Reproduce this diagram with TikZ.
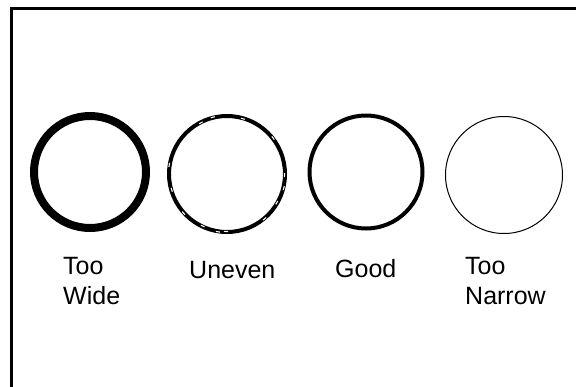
\documentclass[tikz,border=0pt]{standalone}
\usepackage{fontspec}
\setmainfont{Liberation Sans}
\usepackage{tikz}

\begin{document}
\begin{tikzpicture}[
    x=1pt, y=-1pt,
    frame/.style={draw, line width=3pt},
    ring/.style={circle, draw, inner sep=0pt, outer sep=0pt},
    gapmark/.style={draw=white, line width=1.1pt},
    ringtext/.style={
        align=left,
        anchor=base west,
        inner sep=0pt,
        font=\fontsize{25}{30}\selectfont
    }
]

\useasboundingbox (0,0) rectangle (576,386);
\path[frame] (11,8) rectangle (610,420);

\node[ring, line width=8pt, minimum size=112pt] (toowide) at (90,172) {};
\node[ring, line width=4pt, minimum size=116pt] (uneven) at (227,174) {};
\node[ring, line width=4pt, minimum size=113pt] (good) at (366,172) {};
\node[ring, line width=1pt, minimum size=117pt] (toonarrow) at (504,175) {};

% white breaks in the uneven ring
\foreach \a/\r in {38/58.5, 74/57.5, 104/58.5, 117/57.5, 171/58.5, 196/57.5,
                   222/58.5, 245/57.5, 261/58.5, 269/57.5, 310/58.5,
                   330/57.5, 346/58.5, 359/57.5}
    \draw[gapmark] ([shift={(-\a+2:\r)}]uneven.center) -- ([shift={(-\a-2:\r)}]uneven.center);

\node[ringtext] (toowidetext) at (63,304) {Too\\Wide};
\node[ringtext] (uneventext) at (189,278) {Uneven};
\node[ringtext] (goodtext) at (335,277) {Good};
\node[ringtext] (toonarrowtext) at (465,304) {Too\\Narrow};

\end{tikzpicture}
\end{document}
